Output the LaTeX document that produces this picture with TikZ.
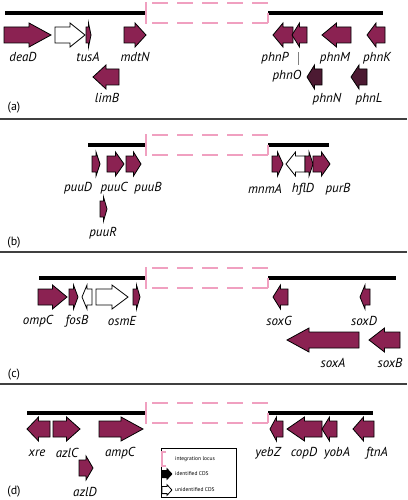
\documentclass[tikz,border=0pt]{standalone}
\usepackage{fontspec}
\setsansfont{PT Sans}
\usepackage{tikz}
\definecolor{cds}{RGB}{139,34,82}
\definecolor{cdsdark}{RGB}{76,26,50}
\definecolor{locuspink}{RGB}{240,160,192}
\newcommand{\gene}[4][]{%
  \pgfmathsetmacro\gsign{ifthenelse(#3>#2,1,-1)}%
  \pgfmathsetmacro\ghead{\gsign*min(22,0.5*abs(#3-#2))}%
  \pgfmathsetmacro\gbase{#3-\ghead}%
  \draw[gene,#1] (#2,#4-8) -- (\gbase,#4-8) -- (\gbase,#4-12) -- (#3,#4)
    -- (\gbase,#4+12) -- (\gbase,#4+8) -- (#2,#4+8) -- cycle;}
\newcommand{\locus}[1]{%
  \draw[locus] (146,#1-11) -- (146,#1+11);
  \draw[locus,dash pattern=on 16pt off 9pt] (152,#1-10) -- (268,#1-10);
  \draw[locus,dash pattern=on 16pt off 9pt] (152,#1+10) -- (268,#1+10);
  \draw[locus] (268,#1+10) -- (268,#1);}
\begin{document}
\begin{tikzpicture}[x=1pt,y=-1pt]
		\tikzstyle{gene}=[draw=black,line width=0.8pt,fill=cds]
		\tikzstyle{unid}=[fill=white]
		\tikzstyle{dark}=[fill=cdsdark]
		\tikzstyle{bar}=[line width=4pt]
		\tikzstyle{locus}=[draw=locuspink,line width=1.4pt]
		\tikzstyle{lbl}=[font=\sffamily\itshape\fontsize{13}{14}\selectfont,inner sep=0pt]
		\tikzstyle{panel}=[font=\sffamily\fontsize{12}{14}\selectfont,inner sep=0pt]
		\tikzstyle{leg}=[font=\sffamily\fontsize{5.5}{6}\selectfont,inner sep=0pt,anchor=west]
		\tikzstyle{sep}=[black!75,line width=1.2pt]
		\useasboundingbox (0,0) rectangle (407,500);
		% panel separators
		\draw[sep] (0,119) -- (407,119);
		\draw[sep] (0,252) -- (407,252);
		\draw[sep] (0,384) -- (407,384);
		% (a)
		\draw[bar] (5,13) -- (146,13);
		\draw[bar] (268,13) -- (383,13);
		\locus{13}
		\gene{4}{51}{35}
		\gene[unid]{55}{85}{35}
		\gene{86}{91}{35}
		\gene{124}{146}{35}
		\gene{119}{93}{77}
		\gene{293}{273}{35}
		\gene{307}{292}{35}
		\gene{351}{322}{35}
		\gene{385}{367}{35}
		\gene[dark]{322}{307}{77}
		\gene[dark]{367}{351}{77}
		\node[lbl] (deaD) at (23,57) {deaD};
		\node[lbl] (tusA) at (88,57) {tusA};
		\node[lbl] (mdtN) at (135,57) {mdtN};
		\node[lbl] (limB) at (107,98) {limB};
		\node[lbl] (phnP) at (275,58) {phnP};
		\node[lbl] (phnM) at (335,58) {phnM};
		\node[lbl] (phnK) at (377,58) {phnK};
		\node[lbl] (phnO) at (287,76) {phnO};
		\node[lbl] (phnN) at (327,99) {phnN};
		\node[lbl] (phnL) at (369,99) {phnL};
		\coordinate (phnOtop) at (298,52);
		\coordinate (phnOfoot) at (298,65);
		\draw[gray,line width=1pt] (phnOfoot) -- (phnOtop);
		\node[panel] (pa) at (14,108) {(a)};
		% (b)
		\draw[bar] (88,145) -- (146,145);
		\draw[bar] (268,145) -- (329,145);
		\locus{145}
		\gene{92}{100}{164}
		\gene{107}{124}{164}
		\gene{126}{141}{164}
		\gene{100}{107}{209}
		\gene{272}{283}{164}
		\gene[unid]{305}{286}{164}
		\gene{305}{313}{164}
		\gene{313}{330}{164}
		\node[lbl] (puuD) at (78,188) {puuD};
		\node[lbl] (puuC) at (114,188) {puuC};
		\node[lbl] (puuB) at (148,188) {puuB};
		\node[lbl] (puuR) at (103,233) {puuR};
		\node[lbl] (mnmA) at (265,189) {mnmA};
		\node[lbl] (hflD) at (303,189) {hflD};
		\node[lbl] (purB) at (338,189) {purB};
		\node[panel] (pb) at (14,243) {(b)};
		% (c)
		\draw[bar] (39,278) -- (146,278);
		\draw[bar] (268,278) -- (396,278);
		\locus{278}
		\gene{38}{67}{297}
		\gene{69}{78}{297}
		\gene[unid]{92}{82}{297}
		\gene[unid]{96}{128}{297}
		\gene{133}{140}{297}
		\gene{288}{273}{297}
		\gene{370}{360}{297}
		\gene{359}{287}{340}
		\gene{400}{369}{340}
		\node[lbl] (ompC) at (38,321) {ompC};
		\node[lbl] (fosB) at (77,321) {fosB};
		\node[lbl] (osmE) at (122,321) {osmE};
		\node[lbl] (soxG) at (279,321) {soxG};
		\node[lbl] (soxD) at (364,321) {soxD};
		\node[lbl] (soxA) at (333,363) {soxA};
		\node[lbl] (soxB) at (390,363) {soxB};
		\node[panel] (pc) at (14,375) {(c)};
		% (d)
		\draw[bar] (27,413) -- (146,413);
		\draw[bar] (268,413) -- (373,413);
		\locus{413}
		\gene{50}{27}{429}
		\gene{53}{80}{429}
		\gene{99}{143}{429}
		\gene{79}{93}{468}
		\gene{283}{270}{429}
		\gene{322}{287}{429}
		\gene{337}{322}{429}
		\gene{374}{353}{429}
		\node[lbl] (xre) at (37,453) {xre};
		\node[lbl] (azlC) at (67,453) {azlC};
		\node[lbl] (ampC) at (120,453) {ampC};
		\node[lbl] (azlD) at (85,492) {azlD};
		\node[lbl] (yebZ) at (268,453) {yebZ};
		\node[lbl] (copD) at (304,453) {copD};
		\node[lbl] (yobA) at (337,453) {yobA};
		\node[lbl] (ftnA) at (377,453) {ftnA};
		\node[panel] (pd) at (14,492) {(d)};
		% legend
		\draw[line width=0.8pt] (161,448) rectangle (236,497);
		\draw[locus] (166,452) -- (162,452) -- (162,466) -- (166,466);
		\begin{scope}[shift={(162,474)},scale=0.45]
		\gene[fill=black]{0}{22}{0}
		\end{scope}
		\begin{scope}[shift={(162,490)},scale=0.45]
		\gene[unid]{0}{22}{0}
		\end{scope}
		\node[leg] (legint) at (175,459) {integration locus};
		\node[leg] (legid) at (175,474) {identified CDS};
		\node[leg] (legun) at (175,490) {unidentified CDS};
\end{tikzpicture}
\end{document}
